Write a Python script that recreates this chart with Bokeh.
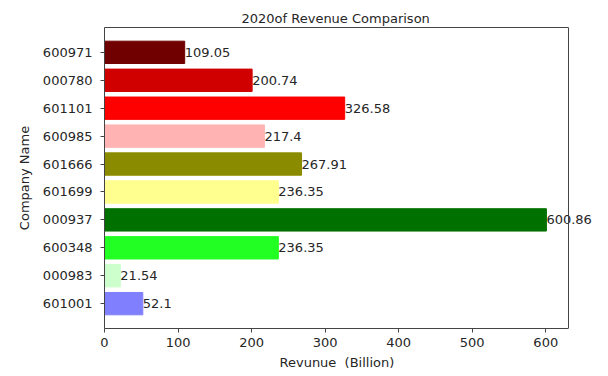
from bokeh.plotting import figure
from bokeh.models import (ColumnDataSource, FactorRange, Range1d, FixedTicker,
                          Span, LinearAxis, Title)
from bokeh.embed import file_html
from bokeh.resources import INLINE
from bokeh.core.properties import value

# bottom-to-top order
companies = ["601001", "000983", "600348", "000937", "601699",
             "601666", "600985", "601101", "000780", "600971"]
revenue = [52.1, 21.54, 236.35, 600.86, 236.35,
           267.91, 217.4, 326.58, 200.74, 109.05]
colors = ["#8080ff", "#ccffcc", "#22ff22", "#007000", "#ffff8f",
          "#8b8b00", "#ffb3b3", "#ff0000", "#d00000", "#700000"]
labels = [str(v) for v in revenue]
x_ticks = [0, 100, 200, 300, 400, 500, 600]

FONT = "DejaVu Sans"
TXT = "#262626"
EDGE = "#444444"

W, H = 608, 376
LEFT, RIGHT_MARGIN = 104, 40
axes_w = W - LEFT - RIGHT_MARGIN          # visible axes box width
data_end = max(revenue) * 1.05            # matplotlib-like 5% margin
# frame extended to the window edge so value labels are not clipped
frame_end = data_end * (W - LEFT) / axes_w

src = ColumnDataSource(dict(company=companies, revenue=revenue,
                            color=colors, label=labels))

p = figure(width=W, height=H, output_backend="svg", toolbar_location=None,
           y_range=FactorRange(factors=companies, range_padding=0.078),
           x_range=Range1d(0, frame_end),
           title="2020of Revenue Comparison",
           min_border_left=LEFT, min_border_right=0,
           min_border_top=27, min_border_bottom=48)

p.hbar(y="company", right="revenue", left=0, height=0.8, color="color",
       source=src)
p.text(x="revenue", y="company", text="label", source=src,
       text_align="left", text_baseline="middle",
       text_font=value(FONT), text_font_size="13px", text_color=TXT)

bottom = p.below[0]
left = p.left[0]

# right edge of the axes box
p.add_layout(Span(location=data_end, dimension="height",
                  line_color=EDGE, line_width=1))
# top edge of the axes box
top_axis = LinearAxis(ticker=FixedTicker(ticks=[]), bounds=(0, data_end),
                      axis_line_color=EDGE, major_tick_line_color=None,
                      minor_tick_line_color=None, major_label_text_alpha=0,
                      major_label_text_font_size="1px")
p.add_layout(top_axis, "above")

p.title.align = "left"
p.title.offset = axes_w / 2 - 95
p.title.text_font = FONT
p.title.text_font_size = "13px"
p.title.text_font_style = "normal"
p.title.text_color = TXT
p.title.standoff = 4

# x-axis label, centred under the visible axes box
xlabel = Title(text="Revunue \u00a0(Billion)", align="left",
               offset=axes_w / 2 - 57, text_font=FONT, text_font_size="13px",
               text_font_style="normal", text_color=TXT, standoff=7)
p.add_layout(xlabel, "below")

p.xgrid.visible = False
p.ygrid.visible = False
p.outline_line_color = None

bottom.ticker = FixedTicker(ticks=x_ticks)
bottom.bounds = (0, data_end)
left.axis_label = "Company Name"

for ax in (bottom, left):
    ax.axis_line_color = EDGE
    ax.major_tick_line_color = EDGE
    ax.major_tick_in = 0
    ax.major_tick_out = 4
    ax.minor_tick_line_color = None
    ax.major_label_text_font = FONT
    ax.major_label_text_font_size = "13px"
    ax.major_label_text_color = TXT
    ax.axis_label_text_font = FONT
    ax.axis_label_text_font_size = "13px"
    ax.axis_label_text_font_style = "normal"
    ax.axis_label_text_color = TXT

bottom.major_label_standoff = 5
left.major_label_standoff = 8
left.axis_label_standoff = 8

open("out.html", "w").write(file_html(p, INLINE))
